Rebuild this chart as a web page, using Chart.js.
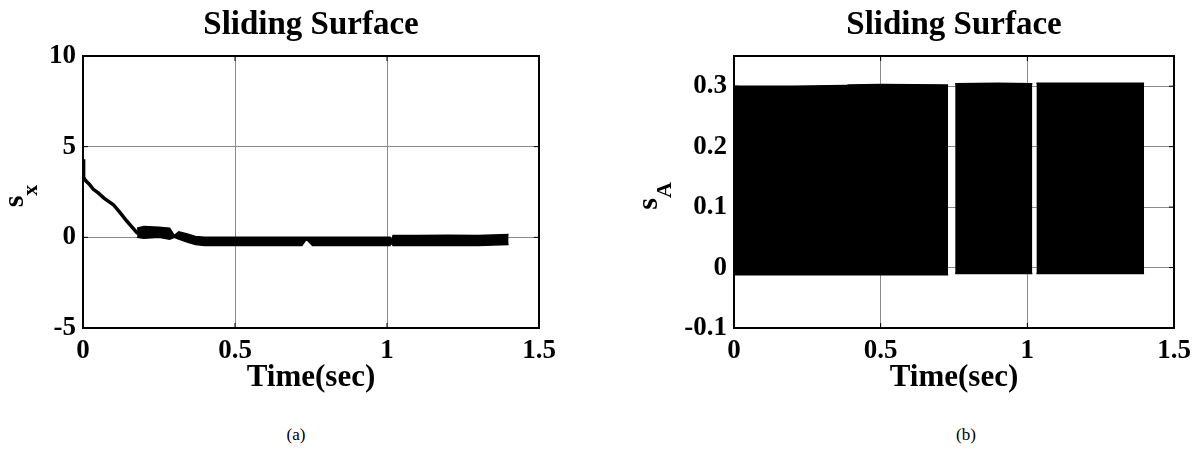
<!DOCTYPE html>
<html>
<head>
<meta charset="utf-8">
<script src="https://cdn.jsdelivr.net/npm/chart.js@4.4.1/dist/chart.umd.min.js"></script>
<style>
    body { margin: 0; background: #fff; width: 1198px; height: 452px; position: relative; overflow: hidden; font-family: "Liberation Serif", "Times New Roman", serif; }
    .caixa { position: absolute; top: 0; height: 400px; }
    #caixaA { left: 0; width: 600px; }
    #caixaB { left: 600px; width: 598px; }
    .legenda { position: absolute; top: 425px; width: 60px; text-align: center; font-size: 17px; color: #000; }
</style>
</head>
<body>
<div class="caixa" id="caixaA"><canvas id="graficoA" width="600" height="400"></canvas></div>
<div class="caixa" id="caixaB"><canvas id="graficoB" width="598" height="400"></canvas></div>
<div class="legenda" style="left:266px">(a)</div>
<div class="legenda" style="left:936px">(b)</div>

<script>
// (a) s_x : reaching phase
const tempoQueda = [0, 0.001, 0.003, 0.01, 0.02, 0.034, 0.05, 0.07, 0.1, 0.12, 0.144, 0.165, 0.18];
const sxQueda    = [4.3, 3.6, 3.3, 3.1, 2.95, 2.65, 2.45, 2.15, 1.8, 1.4, 0.9, 0.5, 0.2];

// (a) s_x : chattering band (upper / lower envelope)
const tempoBanda = [0.178, 0.2, 0.25, 0.285, 0.3, 0.315, 0.34, 0.37, 0.4, 0.5, 0.6, 0.72, 0.735, 0.755, 0.85, 0.95, 1.01, 1.015, 1.02, 1.1, 1.2, 1.3, 1.4];
const sxAlto     = [0.5, 0.6, 0.55, 0.5, 0.1, 0.3, 0.2, 0.05, 0, 0, 0, 0, 0, 0, 0, 0, 0, -0.2, 0.1, 0.1, 0.12, 0.1, 0.15];
const sxBaixo    = [0, -0.05, 0, -0.1, 0, -0.1, -0.25, -0.4, -0.45, -0.45, -0.45, -0.45, -0.1, -0.45, -0.45, -0.45, -0.45, -0.3, -0.45, -0.45, -0.45, -0.45, -0.4];

// (b) s_A : switching band, blocks separated by gaps (null)
const tempoSA = [0, 0.2, 0.38, 0.39, 0.5, 0.73, 0.742, 0.754, 0.9, 1.017, 1.024, 1.031, 1.2, 1.398];
const saAlto  = [0.300, 0.300, 0.301, 0.302, 0.303, 0.302, null, 0.304, 0.305, 0.304, null, 0.305, 0.305, 0.305];
const saBaixo = [-0.012, -0.012, -0.012, -0.012, -0.012, -0.012, null, -0.01, -0.01, -0.01, null, -0.01, -0.01, -0.01];

const ticksTempo = [0, 0.5, 1, 1.5];

const FONTE = '"Liberation Serif", "Times New Roman", serif';
Chart.defaults.font.family = FONTE;
Chart.defaults.font.weight = 'bold';
Chart.defaults.font.size = 27;
Chart.defaults.color = '#000';

const pontos = (ts, vs) => ts.map((t, i) => ({ x: t, y: vs[i] }));

function linha(ctx, x1, y1, x2, y2) {
    ctx.beginPath();
    ctx.moveTo(x1, y1);
    ctx.lineTo(x2, y2);
    ctx.stroke();
}

// moldura estilo MATLAB: borda, marcas internas, titulo e rotulos
const moldura = {
    id: 'moldura',
    afterDatasetsDraw(chart, args, o) {
        const { ctx, chartArea: a, scales } = chart;
        ctx.save();
        ctx.strokeStyle = '#000';
        ctx.lineWidth = 1;
        scales.x.ticks.forEach(t => {
            const px = scales.x.getPixelForValue(t.value);
            linha(ctx, px, a.bottom, px, a.bottom - 5);
            linha(ctx, px, a.top, px, a.top + 5);
        });
        scales.y.ticks.forEach(t => {
            const py = scales.y.getPixelForValue(t.value);
            linha(ctx, a.left, py, a.left + 5, py);
            linha(ctx, a.right, py, a.right - 5, py);
        });
        ctx.lineWidth = 2;
        ctx.strokeRect(a.left, a.top, a.right - a.left, a.bottom - a.top);

        const cx = (a.left + a.right) / 2;
        ctx.fillStyle = '#000';
        ctx.textAlign = 'center';
        ctx.textBaseline = 'alphabetic';
        ctx.font = `bold 33px ${FONTE}`;
        ctx.fillText(o.titulo, cx, a.top - 22);
        ctx.font = `bold 31px ${FONTE}`;
        ctx.fillText(o.eixoX, cx, a.bottom + 58);

        // rotulo vertical com subscrito
        ctx.translate(o.rotuloX, (a.top + a.bottom) / 2 + 4);
        ctx.rotate(-Math.PI / 2);
        ctx.textAlign = 'left';
        ctx.font = `bold 30px ${FONTE}`;
        const w1 = ctx.measureText('s').width;
        ctx.font = `bold 22px ${FONTE}`;
        const w2 = ctx.measureText(o.sub).width;
        const x0 = -(w1 + w2) / 2;
        ctx.font = `bold 30px ${FONTE}`;
        ctx.fillText('s', x0, 0);
        ctx.font = `bold 22px ${FONTE}`;
        ctx.fillText(o.sub, x0 + w1, 14);
        ctx.restore();
    }
};

function escalas(yMin, yMax, passo, larguraY) {
    return {
        x: {
            type: 'linear', min: 0, max: 1.5,
            afterBuildTicks: s => { s.ticks = ticksTempo.map(v => ({ value: v })); },
            afterFit: s => { s.height = 72; },
            grid: { color: '#8a8a8a', lineWidth: 1, drawTicks: false },
            border: { display: false },
            ticks: { padding: 7, maxRotation: 0, callback: v => String(v) }
        },
        y: {
            type: 'linear', min: yMin, max: yMax,
            afterFit: s => { s.width = larguraY; },
            grid: { color: '#8a8a8a', lineWidth: 1, drawTicks: false },
            border: { display: false },
            ticks: { stepSize: passo, padding: 7, includeBounds: false }
        }
    };
}

const estiloBanda = { borderColor: '#000', backgroundColor: '#000', borderWidth: 1.5, pointRadius: 0, tension: 0, spanGaps: false };

new Chart(document.getElementById('graficoA'), {
    type: 'line',
    data: {
        datasets: [
            { data: pontos(tempoQueda, sxQueda), borderColor: '#000', borderWidth: 3.5, pointRadius: 0, fill: false },
            { ...estiloBanda, data: pontos(tempoBanda, sxAlto), fill: '+1' },
            { ...estiloBanda, data: pontos(tempoBanda, sxBaixo), fill: false }
        ]
    },
    options: {
        responsive: false,
        animation: false,
        layout: { padding: { top: 56, left: 0, right: 61, bottom: 0 } },
        scales: escalas(-5, 10, 5, 83),
        plugins: {
            legend: { display: false },
            tooltip: { enabled: false },
            moldura: { titulo: 'Sliding Surface', eixoX: 'Time(sec)', sub: 'x', rotuloX: 23 }
        }
    },
    plugins: [moldura]
});

new Chart(document.getElementById('graficoB'), {
    type: 'line',
    data: {
        datasets: [
            { ...estiloBanda, data: pontos(tempoSA, saAlto), fill: '+1' },
            { ...estiloBanda, data: pontos(tempoSA, saBaixo), fill: false }
        ]
    },
    options: {
        responsive: false,
        animation: false,
        layout: { padding: { top: 56, left: 0, right: 24, bottom: 0 } },
        scales: escalas(-0.1, 0.35, 0.1, 134),
        plugins: {
            legend: { display: false },
            tooltip: { enabled: false },
            moldura: { titulo: 'Sliding Surface', eixoX: 'Time(sec)', sub: 'A', rotuloX: 57 }
        }
    },
    plugins: [moldura]
});
</script>
</body>
</html>
